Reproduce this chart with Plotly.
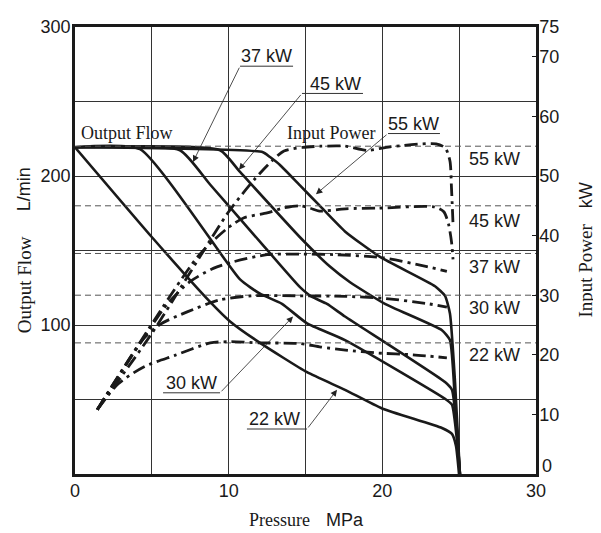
import plotly.graph_objects as go

# ---------------- data ----------------
pressure_tickvals = [0, 5, 10, 15, 20, 25, 30]
pressure_ticktext = ["0", "", "10", "", "20", "", "30"]
flow_tickvals = [0, 50, 100, 150, 200, 250, 300]
flow_ticktext = ["", "", "100", "", "200", "", "300"]
power_tickvals = [10, 20, 30, 40, 50, 60, 70, 75]
power_ticktext = ["10", "20", "30", "40", "50", "60", "70", "75"]
power_zero_label = "0"

power_levels = [55, 45, 37, 30, 22]
power_level_labels = ["55 kW", "45 kW", "37 kW", "30 kW", "22 kW"]

# Output flow curves (pressure MPa, flow L/min)
flow_22_p = [0, 5.01, 8.79, 10.09, 12.04, 15.10, 17.57, 19.98, 23.88, 24.53, 24.79, 24.99]
flow_22_q = [219.3, 158.9, 115.5, 102.4, 88.0, 68.3, 56.5, 44.0, 30.9, 26.9, 19.0, 0]
flow_30_p = [0, 4.23, 10.74, 12.04, 13.47, 15.10, 17.57, 24.08, 24.53, 24.86, 25.05]
flow_30_q = [219.3, 218.0, 130.6, 121.0, 114.2, 101.1, 89.9, 50.5, 46.6, 22.3, 0]
flow_37_p = [0, 6.83, 8.79, 12.23, 14.64, 15.40, 16.40, 17.57, 24.08, 24.53, 24.86, 25.05]
flow_37_q = [219.3, 217.3, 194.3, 153.6, 125.4, 119.0, 114.2, 105.7, 61.7, 56.5, 28.0, 0]
flow_45_p = [0, 9.44, 10.74, 14.64, 16.59, 17.90, 20.17, 23.88, 24.40, 24.73, 25.05]
flow_45_q = [219.3, 217.3, 202.7, 158.9, 139.2, 128.7, 114.2, 96.5, 89.9, 48.6, 0]
flow_55_p = [0, 12.23, 12.69, 13.34, 14.64, 15.94, 17.57, 19.85, 23.43, 24.08, 24.40, 24.73, 25.05]
flow_55_q = [219.3, 216.0, 212.7, 207.4, 193.7, 179.9, 162.8, 145.7, 126.0, 119.5, 107.7, 61.7, 0]

# Input power curves (pressure MPa, power kW)
power_22_p = [1.45, 2.8, 4.5, 6.5, 8.8, 10.1, 12.0, 14.6, 16.0, 17.6, 19.7, 22.0, 24.2]
power_22_w = [10.8, 15.1, 18.0, 19.9, 22.0, 22.2, 22.0, 21.9, 21.3, 20.8, 20.3, 20.0, 19.5]
power_30_p = [1.45, 4.5, 5.6, 7.3, 9.4, 11.5, 14.6, 17.6, 20.0, 22.9, 24.2]
power_30_w = [10.8, 22.8, 25.2, 27.2, 29.2, 29.9, 29.9, 29.8, 29.5, 28.6, 28.0]
power_37_p = [1.45, 6.0, 7.5, 9.0, 10.3, 12.5, 14.6, 17.0, 20.0, 22.9, 24.2]
power_37_w = [10.8, 28.5, 32.3, 34.5, 35.6, 36.8, 36.9, 36.8, 36.3, 34.8, 34.0]
power_45_p = [1.45, 8.0, 9.9, 11.0, 12.5, 13.5, 14.6, 15.3, 15.9, 17.6, 19.7, 23.4, 24.0, 24.3, 24.5, 24.6]
power_45_w = [10.8, 36.5, 41.2, 43.0, 43.8, 44.6, 45.0, 44.6, 44.1, 44.5, 44.6, 44.8, 44.0, 42.0, 39.0, 36.0]
power_55_p = [1.45, 5.0, 10.0, 11.7, 12.8, 13.6, 14.8, 16.0, 17.6, 19.0, 20.5, 23.5, 24.1, 24.4, 24.5, 24.6]
power_55_w = [10.8, 23.6, 44.0, 49.5, 52.5, 54.2, 54.8, 55.0, 55.0, 54.3, 54.9, 55.4, 54.7, 52.5, 48.0, 42.0]

flow_curves = [
    (flow_22_p, flow_22_q), (flow_30_p, flow_30_q), (flow_37_p, flow_37_q),
    (flow_45_p, flow_45_q), (flow_55_p, flow_55_q),
]
power_curves = [
    (power_22_p, power_22_w), (power_30_p, power_30_w), (power_37_p, power_37_w),
    (power_45_p, power_45_w), (power_55_p, power_55_w),
]

# ---------------- figure ----------------
fig = go.Figure()
INK = "#1a1a1a"
SANS = "Liberation Sans, Arial, sans-serif"
SERIF = "Liberation Serif, Times New Roman, serif"

for lvl in power_levels:
    fig.add_trace(go.Scatter(x=[0, 30], y=[lvl, lvl], yaxis="y2", mode="lines",
                             line=dict(color="#555555", width=1, dash="6px,4px"),
                             hoverinfo="skip", showlegend=False))

for p, w in power_curves:
    fig.add_trace(go.Scatter(x=p, y=w, yaxis="y2", mode="lines",
                             line=dict(color=INK, width=2.8, dash="13px,5px,3px,5px",
                                       shape="spline", smoothing=0.7),
                             showlegend=False))

for p, q in flow_curves:
    fig.add_trace(go.Scatter(x=p, y=q, mode="lines",
                             line=dict(color=INK, width=2.6, shape="spline", smoothing=0.5),
                             showlegend=False))

callouts = [
    ("37 kW", 12.43, 280.3, 10.74, 14.19, 273.7, 10.74, 7.68, 209.4),
    ("45 kW", 16.92, 261.9, 14.77, 18.74, 255.4, 14.77, 10.67, 204.2),
    ("55 kW", 22.06, 235.0, 20.37, 23.75, 228.5, 20.37, 15.68, 187.8),
    ("30 kW", 7.55, 61.1, 5.73, 9.44, 54.5, 9.44, 14.19, 105.7),
    ("22 kW", 12.95, 36.8, 11.19, 15.10, 30.2, 15.10, 17.05, 56.5),
]
shapes = []
annotations = []
for t, tx, ty, u0, u1, uy, tail, tipx, tipy in callouts:
    annotations.append(dict(x=tx, y=ty, xref="x", yref="y", text=t, showarrow=False,
                            font=dict(family=SANS, size=18, color=INK)))
    shapes.append(dict(type="line", xref="x", yref="y", x0=u0, x1=u1, y0=uy, y1=uy,
                       line=dict(color="#333333", width=1)))
    annotations.append(dict(x=tipx, y=tipy, ax=tail, ay=uy, xref="x", yref="y",
                            axref="x", ayref="y", text="", showarrow=True,
                            arrowhead=2, arrowsize=1.6, arrowwidth=0.8, arrowcolor="#222222"))

for lab, lvl_y in zip(power_level_labels, [52.8, 42.5, 34.8, 27.9, 19.9]):
    annotations.append(dict(x=27.27, y=lvl_y, xref="x", yref="y2", text=lab, showarrow=False,
                            font=dict(family=SANS, size=18, color=INK)))

def px(sx):
    return (sx - 75) / 461

def py(sy):
    return (474 - sy) / 457

def paper_text(text, sx, sy, family, size, angle=0, xanchor="center"):
    return dict(x=px(sx), y=py(sy), xref="paper", yref="paper", text=text,
                textangle=angle, showarrow=False, xanchor=xanchor, yanchor="middle",
                font=dict(family=family, size=size, color=INK))

annotations += [
    dict(x=3.38, y=229.1, xref="x", yref="y", text="Output Flow", showarrow=False,
         font=dict(family=SERIF, size=18, color=INK)),
    dict(x=16.72, y=229.1, xref="x", yref="y", text="Input Power", showarrow=False,
         font=dict(family=SERIF, size=18, color=INK)),
    paper_text("Output Flow", 24, 281, SERIF, 19, -90),
    paper_text("L/min", 24, 183, SANS, 18, -90),
    paper_text("Input Power", 586, 266, SERIF, 19, -90),
    paper_text("kW", 586, 189, SANS, 18, -90),
    paper_text("Pressure", 279, 521, SERIF, 18),
    paper_text("MPa", 345, 521, SANS, 18),
    paper_text(power_zero_label, 540, 466, SANS, 18, 0, "left"),
]

# page body has an 8px margin, so the figure is 8px smaller and margins shifted
fig.update_layout(
    width=593, height=525,
    margin=dict(l=67, r=65, t=9, b=59),
    paper_bgcolor="white", plot_bgcolor="white",
    font=dict(family=SANS, size=18, color=INK),
    showlegend=False,
    shapes=shapes,
    annotations=annotations,
    xaxis=dict(range=[0, 30], tickvals=pressure_tickvals, ticktext=pressure_ticktext,
               showgrid=True, gridcolor="#333333", gridwidth=1,
               showline=True, linecolor=INK, linewidth=2.5, mirror=True,
               ticks="", ticklabelstandoff=-1, zeroline=False),
    yaxis=dict(range=[0, 300], tickvals=flow_tickvals, ticktext=flow_ticktext,
               showgrid=True, gridcolor="#333333", gridwidth=1,
               showline=True, linecolor=INK, linewidth=2.5, mirror=True,
               ticks="", ticklabelstandoff=-2, zeroline=False),
    yaxis2=dict(range=[0, 75], overlaying="y", side="right", tickvals=power_tickvals,
                ticktext=power_ticktext, showgrid=False, showline=True, linecolor=INK,
                linewidth=2.5, ticks="inside", ticklen=4, tickcolor=INK, zeroline=False,
                ticklabelstandoff=-3),
)

fig.write_html("out.html")
